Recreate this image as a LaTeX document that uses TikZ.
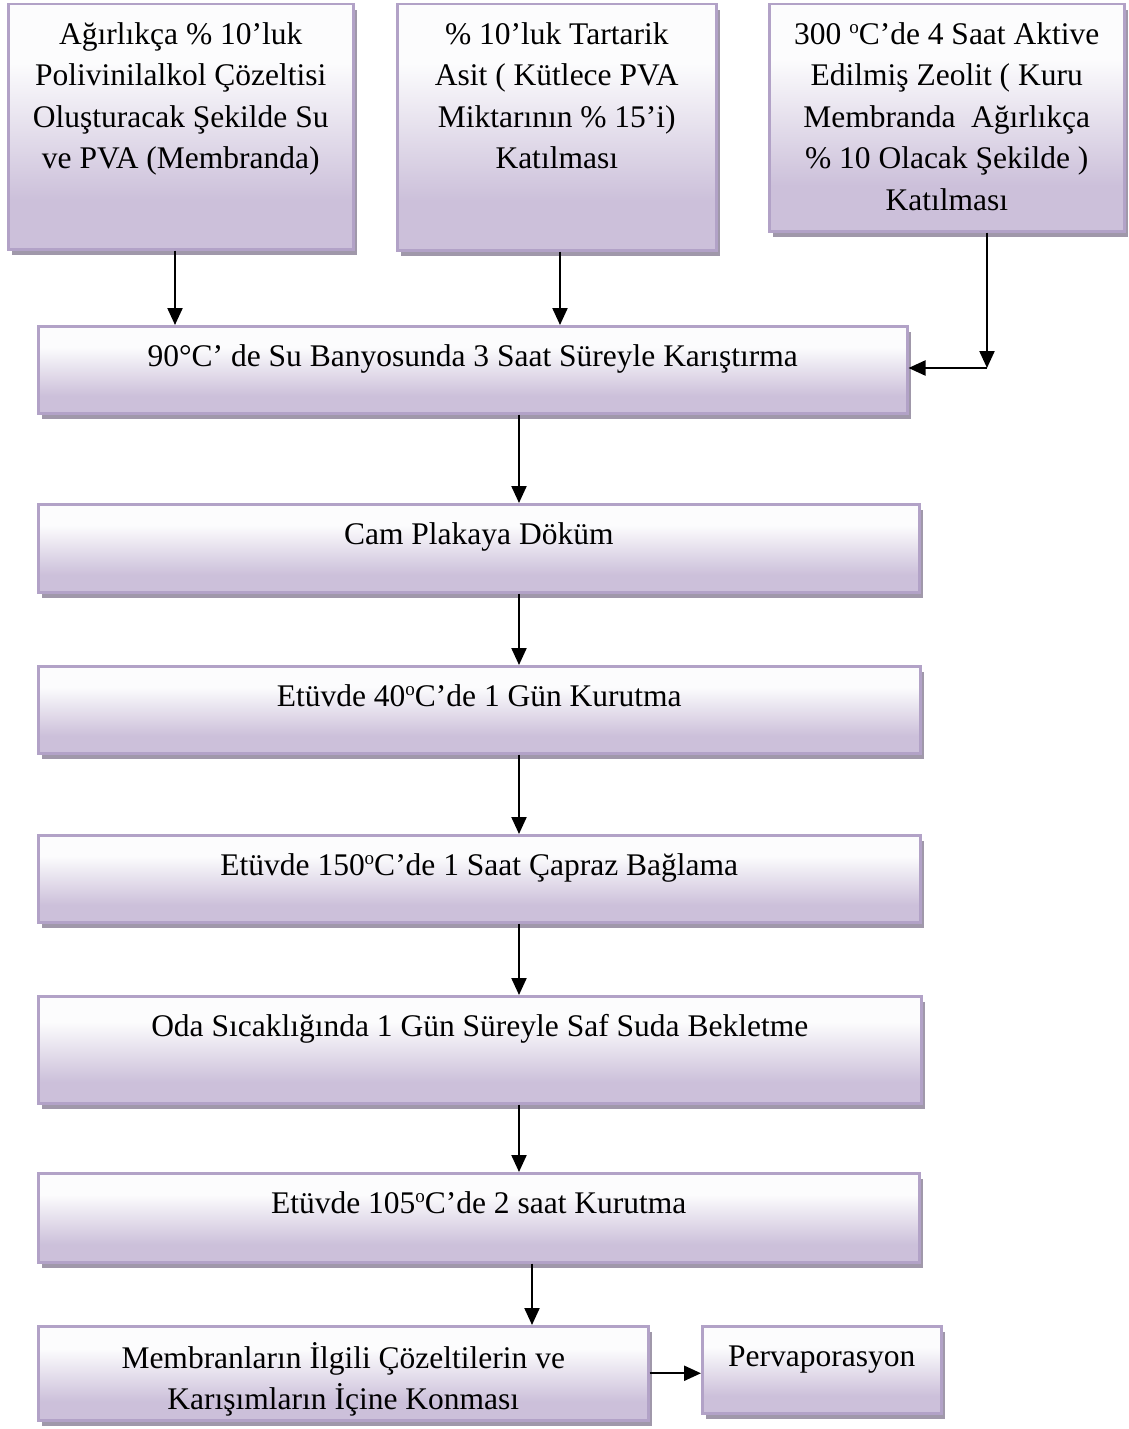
\documentclass[tikz,border=0pt]{standalone}
\usepackage{fontspec}
\setmainfont{Liberation Serif}
\usetikzlibrary{arrows.meta,shadows,positioning}
\definecolor{lav}{RGB}{204,192,218}
\definecolor{lavtop}{RGB}{252,252,253}
\definecolor{lavborder}{RGB}{178,162,199}
\definecolor{shadowcol}{RGB}{160,152,170}
\pgfdeclareverticalshading{lavgrad}{100bp}{color(0bp)=(lav); color(35bp)=(lav); color(63bp)=(lavtop); color(100bp)=(lavtop)}
\newcommand{\supo}{\raisebox{11pt}{\fontsize{19}{19}\selectfont o}}
\tikzset{
  box/.style={draw=lavborder, line width=2.5pt, shading=lavgrad, inner sep=0pt,
    anchor=north west, rectangle,
    drop shadow={shadow xshift=4pt, shadow yshift=-6pt, fill=shadowcol, opacity=1}},
  txt/.style={inner sep=0pt, align=center, font=\fontsize{31.5}{41.5}\selectfont},
  arr/.style={line width=2.2pt, -{Triangle[length=17pt,width=15pt]}}
}
\begin{document}
\begin{tikzpicture}[x=1pt,y=-1pt]
\useasboundingbox (0,0) rectangle (1129,1429);
% boxes
\node[box, minimum width=345pt, minimum height=245pt] (b1) at (7,3) {};
\node[box, minimum width=319pt, minimum height=246pt] (b2) at (396,3) {};
\node[box, minimum width=355pt, minimum height=227pt] (b3) at (768,3) {};
\node[box, minimum width=869pt, minimum height=87pt] (b4) at (37,325) {};
\node[box, minimum width=881pt, minimum height=88pt] (b5) at (37,503) {};
\node[box, minimum width=882pt, minimum height=87pt] (b6) at (37,665) {};
\node[box, minimum width=882pt, minimum height=87pt] (b7) at (37,834) {};
\node[box, minimum width=883pt, minimum height=107pt] (b8) at (37,995) {};
\node[box, minimum width=881pt, minimum height=89pt] (b9) at (37,1172) {};
\node[box, minimum width=610pt, minimum height=94pt] (b10) at (37,1325) {};
\node[box, minimum width=239pt, minimum height=87pt] (b11) at (701,1325) {};
% texts
\node[txt, below=12pt of b1.north] (t1) {\strut Ağırlıkça \% 10’luk\\Polivinilalkol Çözeltisi\\Oluşturacak Şekilde Su\\ve PVA (Membranda)};
\node[txt, below=12pt of b2.north] (t2) {\strut\% 10’luk Tartarik\\Asit ( Kütlece PVA\\Miktarının \% 15’i)\\Katılması};
\node[txt, below=12pt of b3.north] (t3) {\strut 300 \supo C’de 4 Saat Aktive\\Edilmiş Zeolit ( Kuru\\Membranda \ Ağırlıkça\\\% 10 Olacak Şekilde )\\Katılması};
\node[txt, below=12pt of b4.north] (t4) {\strut 90°C’ de Su Banyosunda 3 Saat Süreyle Karıştırma};
\node[txt, below=12pt of b5.north] (t5) {\strut Cam Plakaya Döküm};
\node[txt, below=12pt of b6.north] (t6) {\strut Etüvde 40\supo C’de 1 Gün Kurutma};
\node[txt, below=12pt of b7.north] (t7) {\strut Etüvde 150\supo C’de 1 Saat Çapraz Bağlama};
\node[txt, below=12pt of b8.north] (t8) {\strut Oda Sıcaklığında 1 Gün Süreyle Saf Suda Bekletme};
\node[txt, below=12pt of b9.north] (t9) {\strut Etüvde 105\supo C’de 2 saat Kurutma};
\node[txt, below=14pt of b10.north] (t10) {\strut Membranların İlgili Çözeltilerin ve\\Karışımların İçine Konması};
\node[txt, below=12pt of b11.north] (t11) {\strut Pervaporasyon};
% connector columns
\coordinate (c1) at (175,0);
\coordinate (c2) at (560,0);
\coordinate (c3) at (987,0);
\coordinate (cm) at (519,0);
\coordinate (cn) at (532,0);
\coordinate (corner) at (987,368);
% arrows
\draw[arr] (b1.south -| c1) -- (b4.north -| c1);
\draw[arr] (b2.south -| c2) -- (b4.north -| c2);
\draw[arr] (b3.south -| c3) -- (corner);
\draw[arr] (corner) -- (b4.east |- corner);
\draw[arr] (b4.south -| cm) -- (b5.north -| cm);
\draw[arr] (b5.south -| cm) -- (b6.north -| cm);
\draw[arr] (b6.south -| cm) -- (b7.north -| cm);
\draw[arr] (b7.south -| cm) -- (b8.north -| cm);
\draw[arr] (b8.south -| cm) -- (b9.north -| cm);
\draw[arr] (b9.south -| cn) -- (b10.north -| cn);
\draw[arr] (b10.east) -- (b10.east -| b11.west);
\end{tikzpicture}
\end{document}
